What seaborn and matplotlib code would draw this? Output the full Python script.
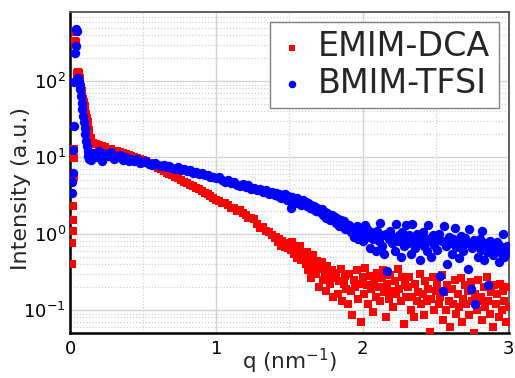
import numpy as np
import pandas as pd
import matplotlib
matplotlib.use('Agg')
import matplotlib.pyplot as plt
import seaborn as sns
from matplotlib.ticker import LogLocator, MultipleLocator, FixedLocator

labels = ['EMIM-DCA', 'BMIM-TFSI']

# low-q region (beam stop edge / direct-beam peak)
q_early_red = [0.012, 0.015, 0.017, 0.019, 0.021, 0.024, 0.027, 0.030, 0.034, 0.038,
               0.042, 0.046, 0.051, 0.056, 0.061, 0.066, 0.070, 0.075, 0.080, 0.085,
               0.090, 0.095, 0.100, 0.105, 0.110, 0.115, 0.120, 0.125, 0.130]
I_early_red = [0.40, 0.76, 1.1, 1.5, 2.3, 5.6, 9.8, 13, 330, 440,
               320, 110, 128, 132, 128, 110, 93, 83, 74, 66,
               59, 53, 47, 42, 37, 33, 29, 26, 23]

q_early_blue = [0.013, 0.016, 0.019, 0.022, 0.026, 0.030, 0.034, 0.038, 0.042, 0.045,
                0.049, 0.053, 0.057, 0.061, 0.066, 0.070, 0.075, 0.080, 0.085, 0.090,
                0.095, 0.100, 0.105, 0.110, 0.115, 0.120, 0.125, 0.130]
I_early_blue = [3.4, 4.7, 6.3, 12.5, 26, 97, 235, 290, 480, 450,
                105, 110, 108, 100, 88, 78, 64, 52, 43, 35,
                29, 24, 20, 16.5, 14, 12, 10.5, 9.5]

# main q grid
q_main = [0.14, 0.16, 0.18, 0.20, 0.22, 0.24, 0.26, 0.28, 0.30, 0.32,
          0.34, 0.36, 0.38, 0.40, 0.42, 0.44, 0.46, 0.48, 0.50, 0.52,
          0.54, 0.56, 0.58, 0.60, 0.62, 0.64, 0.66, 0.68, 0.70, 0.72,
          0.74, 0.76, 0.78, 0.80, 0.82, 0.84, 0.86, 0.88, 0.90, 0.92,
          0.94, 0.96, 0.98, 1.00, 1.02, 1.04, 1.06, 1.08, 1.10, 1.12,
          1.14, 1.16, 1.18, 1.20, 1.22, 1.24, 1.26, 1.28, 1.30, 1.32,
          1.34, 1.36, 1.38, 1.40,
          1.41, 1.42, 1.43, 1.44, 1.45, 1.46, 1.47, 1.48, 1.49, 1.50,
          1.51, 1.52, 1.53, 1.54, 1.55, 1.56, 1.57, 1.58, 1.59, 1.60,
          1.61, 1.62, 1.63, 1.64, 1.65, 1.66, 1.67, 1.68, 1.69, 1.70,
          1.71, 1.72, 1.73, 1.74, 1.75, 1.76, 1.77, 1.78, 1.79, 1.80,
          1.81, 1.82, 1.83, 1.84, 1.85, 1.86, 1.87, 1.88, 1.89, 1.90,
          1.91, 1.92, 1.93, 1.94, 1.95, 1.96, 1.97, 1.98, 1.99, 2.00,
          2.01, 2.02, 2.03, 2.04, 2.05, 2.06, 2.07, 2.08, 2.09, 2.10,
          2.11, 2.12, 2.13, 2.14, 2.15, 2.16, 2.17, 2.18, 2.19, 2.20,
          2.21, 2.22, 2.23, 2.24, 2.25, 2.26, 2.27, 2.28, 2.29, 2.30,
          2.31, 2.32, 2.33, 2.34, 2.35, 2.36, 2.37, 2.38, 2.39, 2.40,
          2.41, 2.42, 2.43, 2.44, 2.45, 2.46, 2.47, 2.48, 2.49, 2.50,
          2.51, 2.52, 2.53, 2.54, 2.55, 2.56, 2.57, 2.58, 2.59, 2.60,
          2.61, 2.62, 2.63, 2.64, 2.65, 2.66, 2.67, 2.68, 2.69, 2.70,
          2.71, 2.72, 2.73, 2.74, 2.75, 2.76, 2.77, 2.78, 2.79, 2.80,
          2.81, 2.82, 2.83, 2.84, 2.85, 2.86, 2.87, 2.88, 2.89, 2.90,
          2.91, 2.92, 2.93, 2.94, 2.95, 2.96, 2.97, 2.98, 2.99, 3.00]

I_main_red = [18.0, 15.6, 15.0, 14.6, 14.0, 13.6, 13.0, 12.8, 12.3, 12.0,
              11.6, 11.5, 11.0, 10.8, 10.5, 10.1, 9.9, 9.5, 9.2, 8.9,
              8.5, 8.1, 7.8, 7.3, 7.0, 6.7, 6.3, 6.0, 5.8, 5.5,
              5.3, 5.0, 4.8, 4.6, 4.4, 4.2, 4.0, 3.8, 3.6, 3.4,
              3.3, 3.1, 2.95, 2.8, 2.7, 2.5, 2.55, 2.35, 2.2, 2.15,
              2.0, 2.05, 1.85, 1.78, 1.6, 1.62, 1.55, 1.35, 1.2, 1.22,
              1.1, 1.05, 0.95, 0.88,
              0.90, 0.78, 0.84, 0.70, 0.80, 0.74, 0.66, 0.76, 0.64, 0.70,
              0.62, 0.78, 0.55, 0.66, 0.48, 0.60, 0.70, 0.45, 0.56, 0.50,
              0.40, 0.58, 0.33, 0.46, 0.26, 0.52, 0.38, 0.30, 0.44, 0.20,
              0.34, 0.42, 0.25, 0.30, 0.18, 0.38, 0.28, 0.22, 0.33, 0.15,
              0.26, 0.31, 0.16, 0.24, 0.34, 0.13, 0.22, 0.28, 0.19, 0.12,
              0.30, 0.18, 0.085, 0.25, 0.20, 0.33, 0.14, 0.22, 0.07, 0.27,
              0.16, 0.36, 0.21, 0.12, 0.28, 0.19, 0.095, 0.24, 0.15, 0.31,
              0.20, 0.13, 0.26, 0.33, 0.17, 0.08, 0.22, 0.14, 0.29, 0.18,
              0.11, 0.24, 0.16, 0.34, 0.19, 0.13, 0.27, 0.065, 0.21, 0.15,
              0.20, 0.27, 0.10, 0.15, 0.08, 0.22, 0.13, 0.17, 0.30, 0.12,
              0.16, 0.085, 0.24, 0.13, 0.19, 0.052, 0.14, 0.27, 0.10, 0.18,
              0.22, 0.12, 0.15, 0.29, 0.075, 0.17, 0.10, 0.21, 0.13, 0.06,
              0.19, 0.12, 0.25, 0.09, 0.16, 0.11, 0.26, 0.07, 0.14, 0.21,
              0.12, 0.18, 0.085, 0.23, 0.13, 0.05, 0.16, 0.10, 0.25, 0.13,
              0.15, 0.075, 0.20, 0.11, 0.27, 0.13, 0.09, 0.17, 0.06, 0.21,
              0.12, 0.16, 0.08, 0.22, 0.10, 0.18, 0.13, 0.07, 0.20, 0.11]

I_main_blue = [9.2, 11.5, 10.0, 12.0, 9.0, 11.0, 10.3, 11.8, 9.6, 10.2,
               10.8, 9.3, 10.0, 9.0, 9.6, 8.9, 9.4, 8.5, 8.6, 8.9,
               8.2, 7.9, 8.4, 8.0, 7.6, 7.9, 7.4, 7.6, 7.3, 7.0,
               7.4, 6.8, 7.0, 6.6, 6.8, 6.3, 6.5, 6.0, 6.2, 5.8,
               5.9, 5.5, 5.6, 5.3, 5.5, 5.0, 4.8, 5.0, 4.6, 4.8,
               4.4, 4.2, 4.5, 4.1, 4.3, 3.8, 4.0, 3.7, 3.9, 3.5,
               3.7, 3.3, 3.5, 3.2,
               3.4, 3.1, 3.3, 2.9, 3.2, 3.0, 3.3, 2.8, 3.1, 2.9,
               2.2, 3.0, 2.8, 2.5, 2.9, 2.7, 2.6, 2.4, 2.8, 2.5,
               2.6, 2.3, 2.5, 2.2, 2.4, 2.1, 2.3, 2.0, 2.2, 2.05,
               1.9, 2.1, 1.75, 1.95, 1.6, 1.85, 1.7, 1.5, 1.75, 1.55,
               1.65, 1.4, 1.55, 1.25, 1.5, 1.3, 1.45, 1.15, 1.35, 1.2,
               1.3, 1.05, 1.2, 0.9, 1.1, 1.25, 0.85, 1.0, 1.15, 0.8,
               1.0, 1.3, 1.15, 0.9, 0.65, 1.05, 0.85, 0.95, 0.6, 1.1,
               0.8, 1.4, 0.7, 0.95, 0.55, 1.0, 0.32, 0.85, 1.1, 0.75,
               0.9, 0.6, 1.35, 0.8, 0.95, 0.5, 1.05, 0.7, 0.88, 1.3,
               0.75, 0.95, 0.55, 1.35, 0.82, 0.65, 1.0, 0.9, 0.45, 0.78,
               1.05, 0.7, 0.88, 0.6, 1.3, 0.8, 0.5, 0.95, 0.72, 0.85,
               0.62, 0.98, 0.28, 0.8, 0.18, 1.25, 0.7, 0.4, 0.9, 0.75,
               0.55, 0.85, 1.2, 0.66, 0.78, 0.48, 0.92, 0.7, 0.6, 0.88,
               0.75, 0.35, 1.15, 0.19, 0.65, 0.82, 0.12, 0.7, 0.5, 0.85,
               0.62, 1.1, 0.45, 0.75, 0.58, 0.21, 0.8, 0.66, 0.52, 0.72,
               0.6, 0.78, 0.42, 0.68, 0.55, 1.0, 0.5, 0.62, 0.7, 0.58]

x_ticks = [0, 1, 2, 3]
x_ticklabels = ['0', '1', '2', '3']

red_df = pd.DataFrame({'q': q_early_red + q_main, 'I': I_early_red + I_main_red})
blue_df = pd.DataFrame({'q': q_early_blue + q_main, 'I': I_early_blue + I_main_blue})

sns.set_style('white')
plt.rcParams['font.family'] = ['DejaVu Sans']
plt.rcParams['mathtext.fontset'] = 'dejavusans'

fig = plt.figure(figsize=(5.15, 3.78), dpi=100)
ax = fig.add_axes([0.136, 0.119, 0.852, 0.849])
ax.set_yscale('log')

sns.scatterplot(data=red_df, x='q', y='I', color='#ff0000', marker='s', s=32,
                linewidth=0, ax=ax, label=labels[0], zorder=3, clip_on=True)
sns.scatterplot(data=blue_df, x='q', y='I', color='#0000ff', marker='o', s=46,
                linewidth=0, ax=ax, label=labels[1], zorder=4, clip_on=True)

ax.set_xlim(0, 3)
ax.set_ylim(0.05, 800)
ax.xaxis.set_major_locator(FixedLocator(x_ticks))
ax.set_xticklabels(x_ticklabels)
ax.xaxis.set_minor_locator(MultipleLocator(0.5))
ax.yaxis.set_major_locator(LogLocator(base=10, numticks=10))
ax.yaxis.set_minor_locator(LogLocator(base=10, subs=np.arange(2, 10), numticks=20))

ax.set_axisbelow(True)
ax.grid(which='major', color='#d4d4d4', lw=1.0, ls='-')
ax.grid(which='minor', color='#d4d4d4', lw=0.9, ls=(0, (1, 1.5)))

for side in ['left', 'bottom']:
    ax.spines[side].set_color('black')
    ax.spines[side].set_linewidth(1.8)
for side in ['top', 'right']:
    ax.spines[side].set_color('#555555')
    ax.spines[side].set_linewidth(1.3)

ax.tick_params(which='both', direction='in', top=False, right=False, colors='black')
ax.tick_params(which='major', length=6, width=1.0, labelsize=13)
ax.tick_params(axis='y', which='major', pad=3)
ax.tick_params(axis='x', which='major', pad=5)
ax.tick_params(which='minor', length=3.5, width=0.8)

ax.set_xlabel('q (nm$^{-1}$)', fontsize=15.5)
ax.set_ylabel('Intensity (a.u.)', fontsize=16)
ax.xaxis.set_label_coords(0.5, -0.042)
ax.yaxis.set_label_coords(-0.088, 0.45)

leg = ax.legend(loc='upper right', fontsize=24, markerscale=0.8, frameon=True,
                fancybox=False, edgecolor='#808080', framealpha=1,
                borderpad=0.25, labelspacing=0.1, handletextpad=0.4,
                handlelength=0.8, borderaxespad=0.3)
leg.get_frame().set_linewidth(1.0)

fig.savefig('out.png', dpi=100)
